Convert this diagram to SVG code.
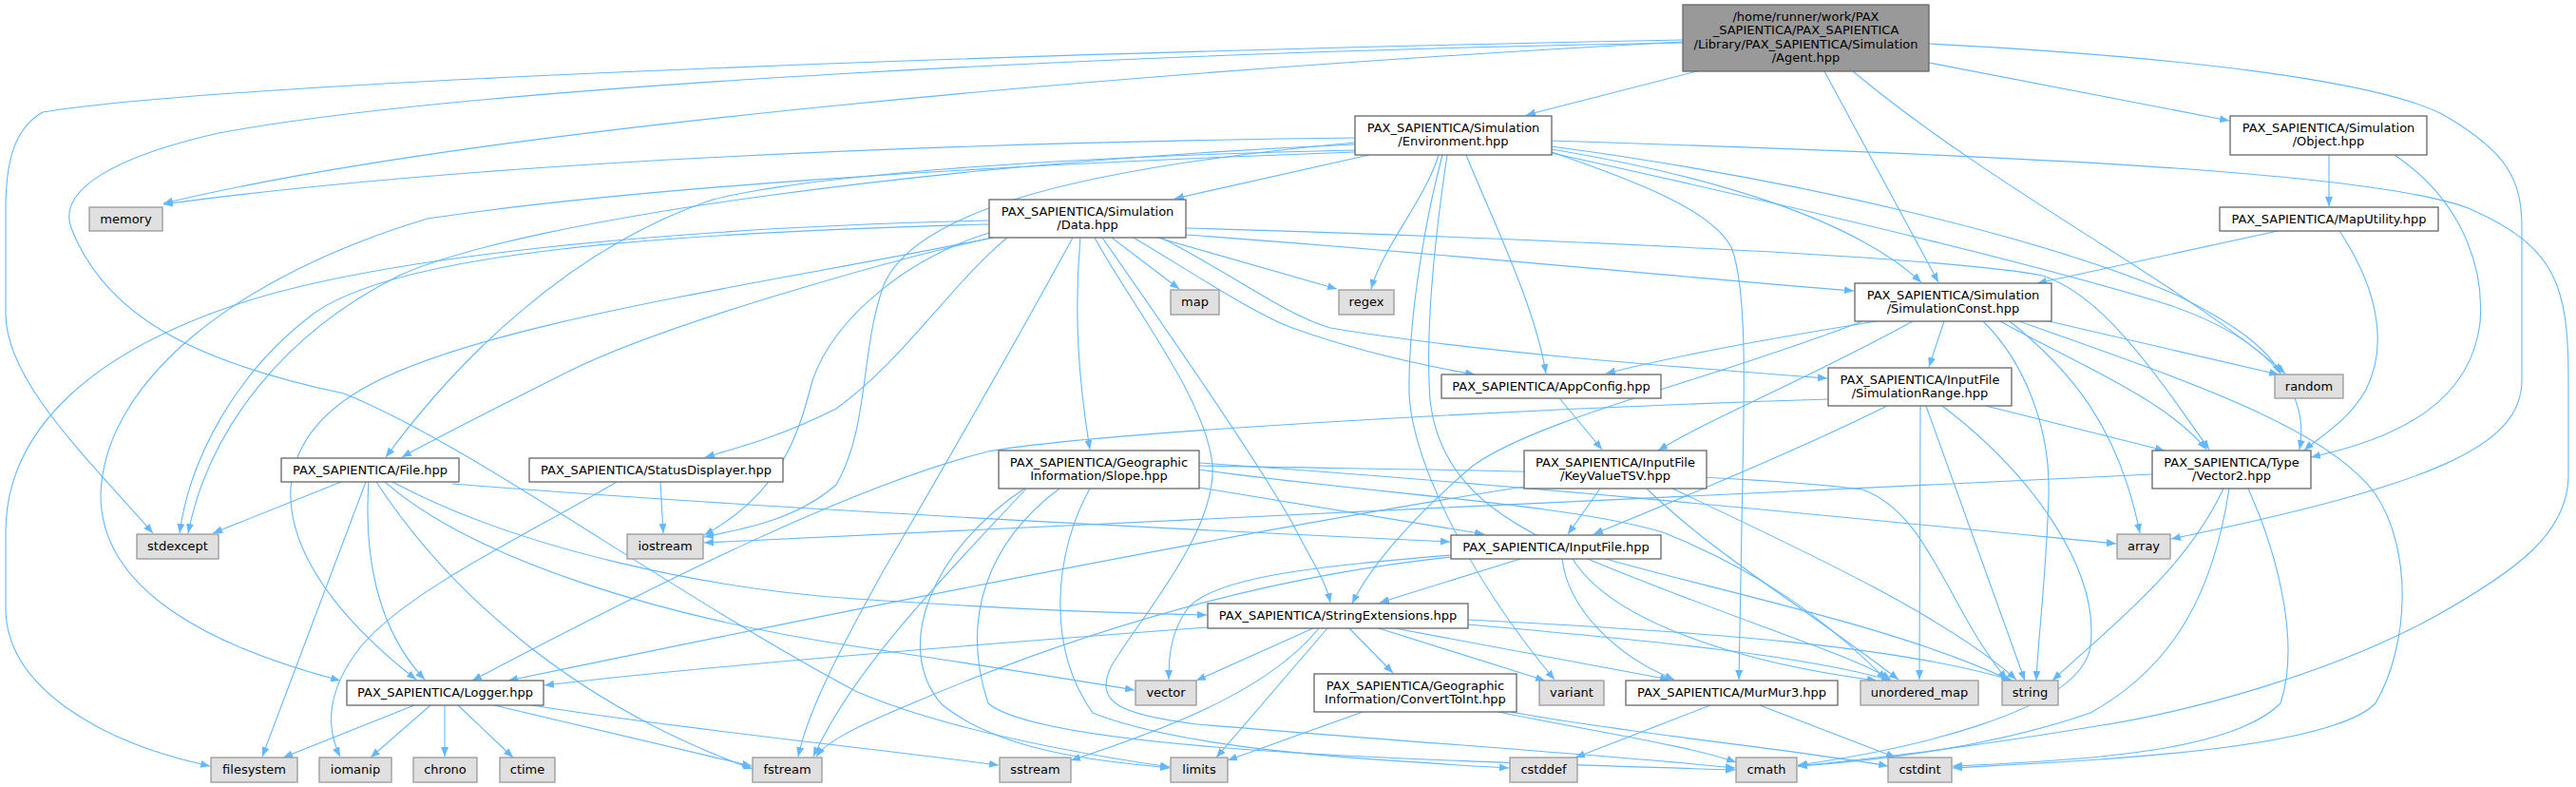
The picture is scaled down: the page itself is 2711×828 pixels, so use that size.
<svg xmlns="http://www.w3.org/2000/svg" width="2711" height="828" viewBox="0 0 2711 828">
<defs>
<marker id="ah" markerWidth="10" markerHeight="8" refX="10" refY="4" orient="auto" markerUnits="userSpaceOnUse"><path d="M0,0 L10,4 L0,8 z" fill="#63b8ff"/></marker>
<style>
.e path{fill:none;stroke:#63b8ff;stroke-width:1.1;marker-end:url(#ah)}
.n{fill:#fff;stroke:#666;stroke-width:1.3}
.a{fill:#999;stroke:#666;stroke-width:1.3}
.s{fill:#e0e0e0;stroke:#999;stroke-width:1.3}
text{font-family:"DejaVu Sans","Liberation Sans",sans-serif;font-size:13px;fill:#000;text-anchor:middle}
</style>
</defs>
<rect width="2711" height="828" fill="#fff"/>
<g id="edges" class="e">
<path d="M1786,75 L1606,121"/>
<path d="M2030,66 L2346,127"/>
<path d="M1920,75 L2040,297"/>
<path d="M1950,75 C2100,200 2300,300 2405,393"/>
<path d="M2030,46 C2300,60 2500,85 2570,120 C2640,160 2654,190 2654,240 L2654,400 C2654,470 2560,510 2285,567"/>
<path d="M1771,44 C1200,75 500,135 172,214"/>
<path d="M1771,42 C1100,55 250,85 45,118 C15,135 6,170 6,220 L6,330 C6,400 90,480 161,561"/>
<path d="M1771,45 C1200,55 500,90 230,140 C120,165 60,200 75,240 C110,330 200,380 362,414 C500,470 700,620 900,727 C1000,770 1150,795 1231,807"/>
<path d="M1441,163 L1236,209"/>
<path d="M1514,163 C1500,210 1455,260 1443,304"/>
<path d="M1543,163 C1570,230 1615,320 1627,393"/>
<path d="M1518,163 C1495,250 1482,350 1483,414 C1486,480 1540,600 1636,715"/>
<path d="M1633,160 C1720,190 1800,220 1822,260 C1838,300 1836,400 1834,500 L1830,715"/>
<path d="M1633,148 C2100,163 2500,180 2600,220 C2690,260 2703,300 2703,400 L2703,500 C2703,560 2650,600 2560,650 C2450,710 2300,750 2200,765 C2050,790 1950,800 1892,806"/>
<path d="M1633,154 C1900,190 2150,250 2290,310 C2350,340 2385,365 2400,393"/>
<path d="M1633,157 C1800,185 1950,230 2022,297"/>
<path d="M1633,161 C1900,220 2150,280 2280,320 C2400,360 2430,420 2420,473"/>
<path d="M1426,158 C1100,165 850,185 750,210 C600,260 480,380 406,481"/>
<path d="M1426,152 C1000,170 550,230 420,290 C300,350 220,450 198,561"/>
<path d="M1426,145 C1000,150 500,170 172,215"/>
<path d="M1426,160 C1000,175 650,200 450,230 C250,290 110,400 106,520 C105,620 220,680 358,716"/>
<path d="M1426,150 C1100,180 960,230 930,300 C905,370 915,450 880,510 C840,545 790,555 741,565"/>
<path d="M1523,163 C1510,250 1500,350 1505,420 C1515,520 1600,560 1700,600 C1850,660 1950,690 1990,715"/>
<path d="M1170,250 L1241,304"/>
<path d="M1218,250 L1407,304"/>
<path d="M1193,250 C1260,290 1320,330 1360,345 C1430,370 1500,385 1552,394"/>
<path d="M1222,250 C1300,290 1350,330 1400,345 C1550,370 1750,385 1923,398"/>
<path d="M1248,247 C1500,265 1750,290 1951,306"/>
<path d="M1248,240 C1600,250 2050,270 2150,290 C2210,310 2260,380 2325,473"/>
<path d="M1045,250 C950,270 700,340 600,390 C520,430 460,460 423,481"/>
<path d="M1060,250 C1000,300 950,380 880,430 C820,460 780,470 742,481"/>
<path d="M1041,236 C700,245 420,265 330,330 C250,390 200,480 189,561"/>
<path d="M1041,232 C700,240 400,270 250,320 C100,370 6,450 6,560 L6,640 C6,720 100,780 221,806"/>
<path d="M1045,250 C800,300 500,340 380,410 C260,480 290,600 438,715"/>
<path d="M1041,245 C960,270 880,330 855,400 C840,460 820,520 741,563"/>
<path d="M1137,250 C1130,330 1135,400 1147,473"/>
<path d="M1152,250 C1190,320 1270,420 1276,490 C1280,560 1200,650 1170,700 C1150,740 1180,752 1260,762 C1500,782 1700,795 1826,808"/>
<path d="M1160,250 C1230,350 1320,480 1360,550 C1380,590 1395,610 1400,634"/>
<path d="M1129,250 C1080,340 1000,480 930,600 C880,690 850,750 840,796"/>
<path d="M436,742 L298,797"/>
<path d="M453,742 L390,797"/>
<path d="M468,742 L468,796"/>
<path d="M482,742 L540,797"/>
<path d="M520,742 L791,806"/>
<path d="M560,742 C700,765 900,785 1051,805"/>
<path d="M359,507 L224,561"/>
<path d="M385,507 L276,796"/>
<path d="M388,507 C383,580 395,660 447,715"/>
<path d="M396,507 C470,620 600,740 792,809"/>
<path d="M405,507 C500,590 700,650 900,680 C1000,695 1100,710 1194,726"/>
<path d="M413,507 C550,580 750,620 900,630 C1050,640 1150,645 1270,647"/>
<path d="M476,509 C800,535 1200,555 1526,570"/>
<path d="M695,507 L698,561"/>
<path d="M649,507 C560,560 430,620 380,680 C340,730 345,770 358,796"/>
<path d="M1262,513 L1562,562"/>
<path d="M1262,487 C1600,510 1950,545 2227,572"/>
<path d="M1262,490 C1500,495 1800,495 1960,515 C2030,540 2050,640 2112,715"/>
<path d="M1262,494 C1450,520 1650,530 1750,560 C1850,600 1920,650 1985,715"/>
<path d="M1078,514 C980,580 940,680 990,740 C1050,790 1150,800 1231,808"/>
<path d="M1147,514 C1110,580 1100,680 1150,750 C1250,790 1450,800 1588,808"/>
<path d="M1115,514 C1040,570 1010,650 1040,740 C1100,790 1500,800 1826,810"/>
<path d="M1080,514 C1000,600 900,700 856,796"/>
<path d="M1684,514 L1650,562"/>
<path d="M1604,512 C1300,560 900,640 535,716"/>
<path d="M1733,514 C1800,580 1900,640 1998,715"/>
<path d="M1760,514 C1900,580 2050,650 2122,715"/>
<path d="M1600,588 L1452,634"/>
<path d="M1527,584 C1400,595 1280,605 1250,640 C1232,665 1230,690 1230,715"/>
<path d="M1527,586 C1300,610 1100,680 960,740 C900,765 870,780 859,796"/>
<path d="M1644,588 C1650,640 1700,690 1762,715"/>
<path d="M1655,588 C1700,660 1850,700 1975,716"/>
<path d="M1690,588 C1800,620 2000,660 2116,716"/>
<path d="M1382,661 L1259,716"/>
<path d="M1388,661 C1340,720 1250,760 1127,800"/>
<path d="M1397,661 L1280,797"/>
<path d="M1420,661 L1466,708"/>
<path d="M1451,661 L1626,716"/>
<path d="M1468,661 L1757,715"/>
<path d="M1545,657 C1750,675 1900,690 1990,716"/>
<path d="M1545,652 C1800,665 2000,680 2118,716"/>
<path d="M1271,660 C1000,680 750,700 573,721"/>
<path d="M1434,749 L1292,800"/>
<path d="M1577,749 C1680,770 1780,785 1827,802"/>
<path d="M1590,749 C1700,770 1900,790 1987,806"/>
<path d="M1800,742 L1658,797"/>
<path d="M1852,742 L1995,797"/>
<path d="M2046,338 L2030,386"/>
<path d="M1975,338 C1900,350 1780,370 1690,393"/>
<path d="M1960,338 C1800,400 1620,440 1550,490 C1480,550 1440,600 1423,635"/>
<path d="M2013,338 C1900,400 1800,440 1745,474"/>
<path d="M2087,338 C2130,380 2158,450 2156,520 C2154,600 2145,670 2143,716"/>
<path d="M2105,338 C2180,380 2280,420 2322,473"/>
<path d="M2115,338 C2180,390 2230,450 2252,561"/>
<path d="M2156,338 L2398,394"/>
<path d="M2125,338 C2300,400 2450,450 2500,520 C2540,580 2535,680 2500,740 C2450,790 2200,800 2055,808"/>
<path d="M2366,514 C2400,590 2420,680 2400,740 C2350,790 2200,800 2055,806"/>
<path d="M2346,514 C2330,620 2290,700 2200,750 C2100,785 1980,800 1892,806"/>
<path d="M2340,514 C2300,600 2220,660 2160,716"/>
<path d="M2265,499 C1800,520 1200,550 741,571"/>
<path d="M1986,427 C1900,470 1780,520 1677,562"/>
<path d="M1924,420 C1600,430 1150,455 1040,475 C900,510 700,610 497,716"/>
<path d="M2021,427 L2020,715"/>
<path d="M2027,427 L2131,716"/>
<path d="M2044,427 C2140,500 2210,600 2200,680 C2190,750 2000,790 1892,805"/>
<path d="M2090,427 L2278,474"/>
<path d="M2451,163 L2451,217"/>
<path d="M2520,163 C2590,210 2615,280 2610,340 C2600,420 2530,460 2432,481"/>
<path d="M2397,243 L2144,298"/>
<path d="M2462,243 C2500,300 2515,360 2490,410 C2470,445 2440,460 2425,474"/>
<path d="M1642,420 L1686,473"/>
</g>
<g id="agent"><rect class="a" x="1771" y="5" width="259" height="70"/><text x="1900.5" y="21.5">/home/runner/work/PAX</text><text x="1900.5" y="36">_SAPIENTICA/PAX_SAPIENTICA</text><text x="1900.5" y="50.5">/Library/PAX_SAPIENTICA/Simulation</text><text x="1900.5" y="65">/Agent.hpp</text></g>
<g id="environment"><rect class="n" x="1426" y="122" width="207" height="41"/><text x="1529.5" y="138.5">PAX_SAPIENTICA/Simulation</text><text x="1529.5" y="153">/Environment.hpp</text></g>
<g id="object"><rect class="n" x="2347" y="122" width="207" height="41"/><text x="2450.5" y="138.5">PAX_SAPIENTICA/Simulation</text><text x="2450.5" y="153">/Object.hpp</text></g>
<g id="maputility"><rect class="n" x="2336" y="218" width="230" height="25"/><text x="2451" y="235">PAX_SAPIENTICA/MapUtility.hpp</text></g>
<g id="data"><rect class="n" x="1041" y="210" width="207" height="40"/><text x="1144.5" y="226.5">PAX_SAPIENTICA/Simulation</text><text x="1144.5" y="241">/Data.hpp</text></g>
<g id="simconst"><rect class="n" x="1952" y="298" width="207" height="40"/><text x="2055.5" y="314.5">PAX_SAPIENTICA/Simulation</text><text x="2055.5" y="329">/SimulationConst.hpp</text></g>
<g id="appconfig"><rect class="n" x="1517" y="394" width="231" height="25"/><text x="1632.5" y="411">PAX_SAPIENTICA/AppConfig.hpp</text></g>
<g id="simrange"><rect class="n" x="1924" y="387" width="193" height="40"/><text x="2020.5" y="403.5">PAX_SAPIENTICA/InputFile</text><text x="2020.5" y="418">/SimulationRange.hpp</text></g>
<g id="random"><rect class="s" x="2394" y="394" width="72" height="25"/><text x="2430" y="411">random</text></g>
<g id="map"><rect class="s" x="1232" y="305" width="51" height="26"/><text x="1257.5" y="322">map</text></g>
<g id="regex"><rect class="s" x="1409" y="305" width="58" height="26"/><text x="1438" y="322">regex</text></g>
<g id="memory"><rect class="s" x="94" y="218" width="77" height="25"/><text x="132.5" y="235">memory</text></g>
<g id="file"><rect class="n" x="296" y="482" width="187" height="25"/><text x="389.5" y="499">PAX_SAPIENTICA/File.hpp</text></g>
<g id="statusdisplayer"><rect class="n" x="557" y="482" width="267" height="25"/><text x="690.5" y="499">PAX_SAPIENTICA/StatusDisplayer.hpp</text></g>
<g id="stdexcept"><rect class="s" x="144" y="562" width="86" height="26"/><text x="187" y="579">stdexcept</text></g>
<g id="iostream"><rect class="s" x="660" y="562" width="80" height="26"/><text x="700" y="579">iostream</text></g>
<g id="slope"><rect class="n" x="1051" y="474" width="211" height="40"/><text x="1156.5" y="490.5">PAX_SAPIENTICA/Geographic</text><text x="1156.5" y="505">Information/Slope.hpp</text></g>
<g id="keyvaluetsv"><rect class="n" x="1604" y="474" width="192" height="40"/><text x="1700" y="490.5">PAX_SAPIENTICA/InputFile</text><text x="1700" y="505">/KeyValueTSV.hpp</text></g>
<g id="vector2"><rect class="n" x="2265" y="474" width="167" height="40"/><text x="2348.5" y="490.5">PAX_SAPIENTICA/Type</text><text x="2348.5" y="505">/Vector2.hpp</text></g>
<g id="inputfile"><rect class="n" x="1527" y="563" width="221" height="25"/><text x="1637.5" y="580">PAX_SAPIENTICA/InputFile.hpp</text></g>
<g id="array"><rect class="s" x="2228" y="562" width="56" height="26"/><text x="2256" y="579">array</text></g>
<g id="stringext"><rect class="n" x="1271" y="635" width="274" height="26"/><text x="1408" y="652">PAX_SAPIENTICA/StringExtensions.hpp</text></g>
<g id="logger"><rect class="n" x="365" y="716" width="207" height="26"/><text x="468.5" y="733">PAX_SAPIENTICA/Logger.hpp</text></g>
<g id="vector"><rect class="s" x="1195" y="716" width="64" height="26"/><text x="1227" y="733">vector</text></g>
<g id="converttoint"><rect class="n" x="1383" y="709" width="213" height="40"/><text x="1489.5" y="725.5">PAX_SAPIENTICA/Geographic</text><text x="1489.5" y="740">Information/ConvertToInt.hpp</text></g>
<g id="variant"><rect class="s" x="1620" y="716" width="68" height="26"/><text x="1654" y="733">variant</text></g>
<g id="murmur3"><rect class="n" x="1711" y="716" width="223" height="26"/><text x="1822.5" y="733">PAX_SAPIENTICA/MurMur3.hpp</text></g>
<g id="unordered_map"><rect class="s" x="1958" y="716" width="124" height="26"/><text x="2020" y="733">unordered_map</text></g>
<g id="string"><rect class="s" x="2107" y="716" width="59" height="26"/><text x="2136.5" y="733">string</text></g>
<g id="filesystem"><rect class="s" x="222" y="797" width="91" height="26"/><text x="267.5" y="814">filesystem</text></g>
<g id="iomanip"><rect class="s" x="336" y="797" width="76" height="26"/><text x="374" y="814">iomanip</text></g>
<g id="chrono"><rect class="s" x="435" y="797" width="67" height="26"/><text x="468.5" y="814">chrono</text></g>
<g id="ctime"><rect class="s" x="526" y="797" width="58" height="26"/><text x="555" y="814">ctime</text></g>
<g id="fstream"><rect class="s" x="792" y="797" width="73" height="26"/><text x="828.5" y="814">fstream</text></g>
<g id="sstream"><rect class="s" x="1052" y="797" width="75" height="26"/><text x="1089.5" y="814">sstream</text></g>
<g id="limits"><rect class="s" x="1232" y="797" width="60" height="26"/><text x="1262" y="814">limits</text></g>
<g id="cstddef"><rect class="s" x="1589" y="797" width="71" height="26"/><text x="1624.5" y="814">cstddef</text></g>
<g id="cmath"><rect class="s" x="1827" y="797" width="64" height="26"/><text x="1859" y="814">cmath</text></g>
<g id="cstdint"><rect class="s" x="1987" y="797" width="67" height="26"/><text x="2020.5" y="814">cstdint</text></g>
</svg>
